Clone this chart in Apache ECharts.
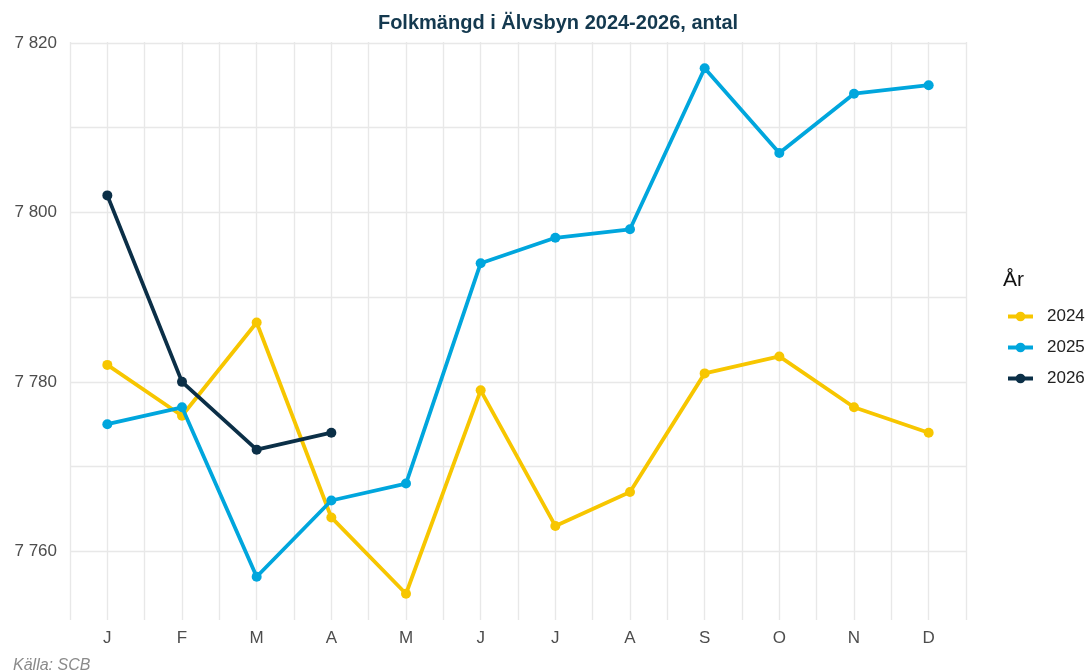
<!DOCTYPE html>
<html>
<head>
<meta charset="utf-8">
<script src="https://cdn.jsdelivr.net/npm/echarts@6/dist/echarts.min.js"></script>
<style>
html,body{margin:0;padding:0;background:#fff;}
#chart{width:1086px;height:672px;}
</style>
</head>
<body>
<div id="chart"></div>
<script>
const months = ['J','F','M','A','M','J','J','A','S','O','N','D'];
const years = ['2024','2025','2026'];
const v2024 = [7782, 7776, 7787, 7764, 7755, 7779, 7763, 7767, 7781, 7783, 7777, 7774];
const v2025 = [7775, 7777, 7757, 7766, 7768, 7794, 7797, 7798, 7817, 7807, 7814, 7815];
const v2026 = [7802, 7780, 7772, 7774];
const yLabelTicks = [7760, 7780, 7800, 7820];
const yGridTicks = [7760, 7770, 7780, 7790, 7800, 7810, 7820];
const colors = ['#F7C600', '#00A6DD', '#0B2F47'];

const FONT = '"Liberation Sans", Arial, sans-serif';
const toPairs = arr => arr.map((v, i) => [i + 1, v]);
const seriesVals = [v2024, v2025, v2026];

const chart = echarts.init(document.getElementById('chart'), null, {renderer: 'canvas'});
chart.setOption({
  animation: false,
  backgroundColor: '#ffffff',
  title: [
    {text: 'Folkmängd i Älvsbyn 2024-2026, antal', left: 553, top: 8, textAlign: 'center',
     textStyle: {fontFamily: FONT, fontSize: 20, fontWeight: 'bold', color: '#14394F'}},
    {text: 'År', left: 998, top: 265,
     textStyle: {fontFamily: FONT, fontSize: 21, fontWeight: 'normal', color: '#111'}},
    {text: 'Källa: SCB', left: 8, top: 653,
     textStyle: {fontFamily: FONT, fontSize: 16, fontStyle: 'italic', fontWeight: 'normal', color: '#8a8a8a'}}
  ],
  legend: {
    orient: 'vertical', left: 1006, top: 308, itemGap: 14, padding: 0,
    itemWidth: 25, itemHeight: 12,
    lineStyle: {width: 4},
    textStyle: {fontFamily: FONT, fontSize: 17, color: '#222', padding: [0, 0, 0, 9]},
    data: years
  },
  grid: {left: 70, right: 120, top: 42, bottom: 52, containLabel: false},
  xAxis: {
    type: 'value', min: 0.5, max: 12.5, interval: 0.5,
    axisLine: {show: false}, axisTick: {show: false},
    axisLabel: {
      fontFamily: FONT, fontSize: 17, color: '#4d4d4d', margin: 10,
      showMinLabel: true, showMaxLabel: true,
      formatter: v => (Number.isInteger(v) && v >= 1 && v <= 12) ? months[v - 1] : ''
    },
    splitLine: {show: true, lineStyle: {color: '#e8e8e8', width: 1.4}}
  },
  yAxis: {
    type: 'value', min: 7751.9, max: 7820.1,
    axisLine: {show: false},
    axisTick: {show: false, customValues: yGridTicks},
    axisLabel: {
      customValues: yLabelTicks,
      fontFamily: FONT, fontSize: 17, color: '#4d4d4d', margin: 13,
      formatter: v => String(v).replace(/\B(?=(\d{3})+(?!\d))/g, ' ')
    },
    splitLine: {show: true, lineStyle: {color: '#e8e8e8', width: 1.4}}
  },
  series: seriesVals.map((vals, k) => ({
    name: years[k], type: 'line', data: toPairs(vals),
    symbol: 'circle', symbolSize: 10,
    lineStyle: {width: 3.8, color: colors[k]},
    itemStyle: {color: colors[k]},
    z: 2 + k
  }))
});
</script>
</body>
</html>
